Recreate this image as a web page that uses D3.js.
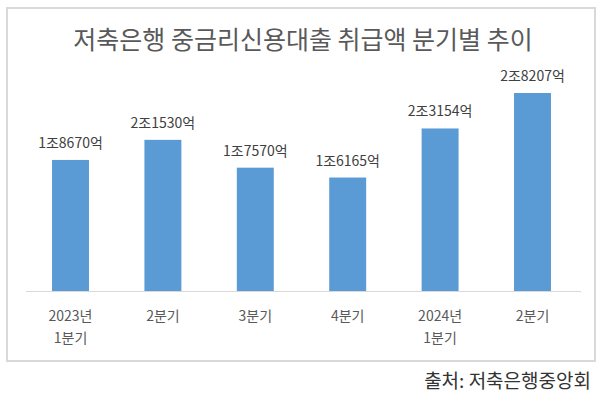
<!DOCTYPE html>
<html>
<head>
<meta charset="utf-8">
<script src="https://cdn.jsdelivr.net/npm/d3@7"></script>
<style>
  body { margin: 0; background: #fff; }
  svg { display: block; font-family: "Noto Sans CJK KR", "Noto Sans", sans-serif; }
</style>
</head>
<body>
<svg id="chart"></svg>
<script>
// data (억원)
var quarters = [["2023년", "1분기"], ["2분기"], ["3분기"], ["4분기"], ["2024년", "1분기"], ["2분기"]];
var amounts = [18670, 21530, 17570, 16165, 23154, 28207];
var amountLabels = ["1조8670억", "2조1530억", "1조7570억", "1조6165억", "2조3154억", "2조8207억"];

var width = 600, height = 396;
var svg = d3.select("#chart").attr("width", width).attr("height", height);

// outer frame
svg.append("rect")
  .attr("x", 7).attr("y", 8)
  .attr("width", 588).attr("height", 353)
  .attr("fill", "#fff")
  .attr("stroke", "#d9d9d9")
  .attr("stroke-width", 2);

svg.append("text")
  .attr("x", 303).attr("y", 49)
  .attr("text-anchor", "middle")
  .style("font-size", "25px")
  .style("fill", "#595959")
  .text("저축은행 중금리신용대출 취급액 분기별 추이");

var x = d3.scaleBand()
  .domain(d3.range(quarters.length))
  .range([24.3, 578.7])
  .paddingInner(0.6)
  .paddingOuter(0.3);

var y = d3.scaleLinear()
  .domain([0, 30000])
  .range([291, 80.4]);

svg.append("g").selectAll("rect")
  .data(amounts)
  .enter()
  .append("rect")
  .attr("x", function(d, i) { return x(i); })
  .attr("y", function(d) { return y(d); })
  .attr("width", x.bandwidth())
  .attr("height", function(d) { return y(0) - y(d); })
  .attr("fill", "#5b9bd5");

svg.append("line")
  .attr("x1", 26).attr("x2", 581)
  .attr("y1", y(0) + 0.5).attr("y2", y(0) + 0.5)
  .attr("stroke", "#d9d9d9")
  .attr("stroke-width", 1);

svg.append("g").selectAll("text")
  .data(amounts)
  .enter()
  .append("text")
  .attr("x", function(d, i) { return x(i) + x.bandwidth() / 2; })
  .attr("y", function(d) { return y(d) - 12; })
  .attr("text-anchor", "middle")
  .style("font-size", "14px")
  .style("fill", "#404040")
  .text(function(d, i) { return amountLabels[i]; });

var cat = svg.append("g").selectAll("text")
  .data(quarters)
  .enter()
  .append("text")
  .attr("x", function(d, i) { return x(i) + x.bandwidth() / 2; })
  .attr("y", 321)
  .attr("text-anchor", "middle")
  .style("font-size", "14px")
  .style("fill", "#595959");

cat.selectAll("tspan")
  .data(function(d) { return d; })
  .enter()
  .append("tspan")
  .attr("x", function() { return d3.select(this.parentNode).attr("x"); })
  .attr("dy", function(d, i) { return i == 0 ? 0 : 22; })
  .text(function(d) { return d; });

svg.append("text")
  .attr("x", 591).attr("y", 388)
  .attr("text-anchor", "end")
  .style("font-size", "19px")
  .style("fill", "#333")
  .text("출처: 저축은행중앙회");
</script>
</body>
</html>
